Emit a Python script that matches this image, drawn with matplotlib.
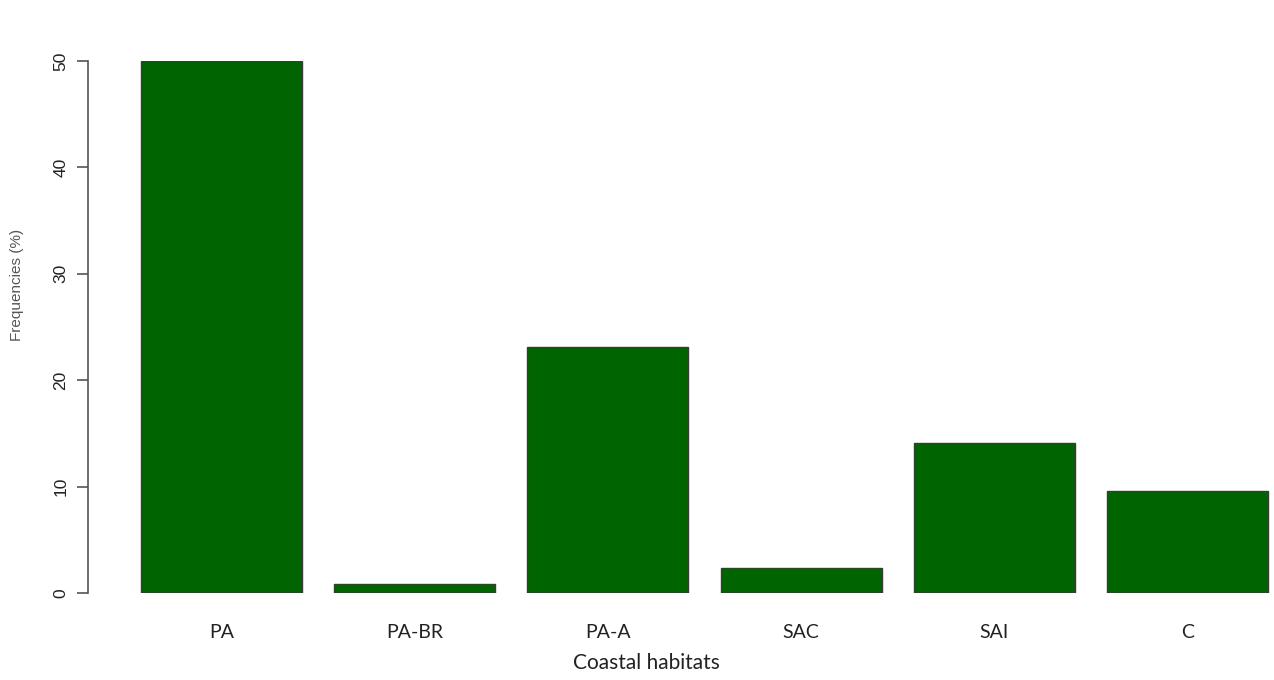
import matplotlib.pyplot as plt

# Data
habitats = ["PA", "PA-BR", "PA-A", "SAC", "SAI", "C"]
freq = [50.0, 0.8, 23.1, 2.35, 14.1, 9.6]
yticks = [0, 10, 20, 30, 40, 50]

W, H = 1274, 680
fig = plt.figure(figsize=(W / 100, H / 100), dpi=100)
# axes placed in pixels: left 88, right 1274, y=0 at 593, y=50 at 61
ax = fig.add_axes([88 / W, (H - 593) / H, (W - 88) / W, (593 - 61) / H])

# R barplot style positions: width 1, space 0.2
pos = [0.7 + 1.2 * i for i in range(len(habitats))]
ax.bar(pos, freq, width=1.0, color="#006400", edgecolor="#3a3a3a", linewidth=1.0)

ax.set_xlim(0.2 - 53 / 161, 0.2 + (W - 141) / 161)
ax.set_ylim(0, 50)

for s in ["top", "right", "bottom"]:
    ax.spines[s].set_visible(False)
ax.spines["left"].set_color("#555555")
ax.spines["left"].set_linewidth(1.2)
ax.spines["left"].set_bounds(0, 50)

ax.set_yticks(yticks)
ax.set_yticklabels([str(v) for v in yticks], rotation=90, va="center",
                   fontsize=12.5, family="Liberation Sans", color="#222222")
ax.tick_params(axis="y", length=8, width=1.2, color="#555555", pad=6)

ax.set_xticks(pos)
ax.set_xticklabels(habitats, fontsize=14, family="Lato", color="#222222")
ax.tick_params(axis="x", length=0, pad=22)

fig.text(646 / W, 1 - 663 / H, "Coastal habitats", ha="center", va="center",
         fontsize=15, family="Lato", color="#222222")
fig.text(17 / W, 1 - 285 / H, "Frequencies (%)", ha="center", va="center",
         rotation=90, fontsize=11, family="Liberation Sans", color="#555555")

fig.savefig("out.png", dpi=100)
